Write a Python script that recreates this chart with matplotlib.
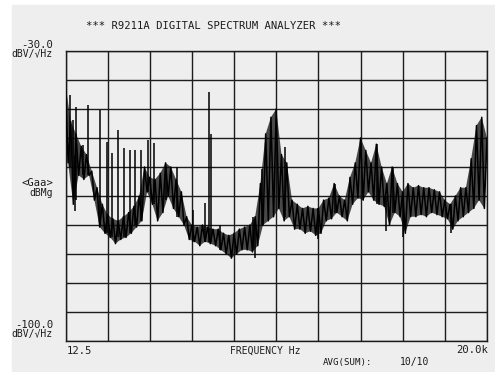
import numpy as np
import matplotlib
matplotlib.use("Agg")
import matplotlib.pyplot as plt
from matplotlib.patches import Rectangle

# Spectrum trace, kHz vs dBV/rtHz.
# upper edge of the noisy trace, every 0.25 kHz
peak_khz = np.arange(0.0, 20.01, 0.25)
peak_db = [
    -38, -47, -50, -53, -55, -59, -63, -67, -69.5, -70.5,
    -71, -70, -69, -67.5, -65, -58, -60.5, -61, -59.5, -57,
    -58, -61, -64, -70, -72, -72.5, -72, -72.5, -73, -73,
    -74, -74.5, -74, -73, -72.5, -72, -70, -62, -50, -46,
    -44, -55, -57, -66, -67, -68, -67.5, -68, -68, -66,
    -65.5, -62, -65, -66, -60.5, -57, -51, -54, -57, -52.5,
    -58, -62, -58, -62, -64, -62, -63, -62.5, -63, -63,
    -63.5, -64, -66, -67, -65, -63, -63, -56, -48, -46,
    -51,
]
# lower edge, between the upper samples
dip_khz = np.arange(0.125, 20.0, 0.25)
dip_db = [
    -57, -67, -60, -61, -60, -66, -72.5, -74, -75, -76.5,
    -75.5, -75, -74, -72.5, -71, -64, -67, -71, -69, -65,
    -68, -70, -72, -75.5, -76, -77, -76, -76.5, -77, -78,
    -79, -80, -79, -78, -78, -78.5, -77, -72, -71, -70,
    -68, -71, -70, -73, -73, -74, -73.5, -74.5, -74, -71,
    -70.5, -69, -70, -71, -67, -65.5, -66, -64, -66, -67,
    -67.5, -72, -69, -70, -74, -70, -70, -69.5, -70, -69,
    -69.5, -70, -70.5, -73, -71, -70, -69, -68, -66, -68,
]

# narrow lines (harmonics and single-bin dips) off the trace
spike_khz = [0.20, 0.36, 0.52, 0.84, 1.07, 1.66, 1.96, 2.21, 2.50, 2.78,
             3.05, 3.32, 3.60, 3.92, 4.19, 4.79, 5.27, 6.06, 6.64, 6.82,
             6.90, 7.32, 8.90, 9.33, 10.44, 12.80, 14.77, 15.55,
             0.45, 9.00, 12.00, 15.20, 16.00, 18.30]
spike_top = [-40.6, -46.7, -43.4, -52.7, -43.0, -44.2, -52.0, -54.7, -49.0, -53.5,
             -54.0, -54.0, -54.0, -51.5, -52.3, -58.0, -58.0, -68.4, -66.8, -39.8,
             -50.0, -72.0, -70.0, -58.5, -53.2, -62.0, -52.4, -58.0,
             -55.0, -72.0, -68.0, -65.0, -66.0, -67.0]
spike_base = [-58, -62, -66, -60, -60, -72, -74, -75, -75, -75,
              -74, -72, -71, -64, -67, -66, -70, -76, -76, -76,
              -76, -78, -78, -72, -70, -69, -67, -69,
              -68.5, -80, -75.5, -73.5, -75, -74]

f_start, f_stop = 0.0125, 20.0
db_top, db_bottom = -30.0, -100.0

PAPER = '#eeeeee'
INK = '#1c1c1c'
W, H = 495, 372


def put(x, y, s, ha='left', size=7.6):
    """Place text at printout pixel position."""
    fig.text(x / W, 1 - y / H, s, ha=ha, va='center', fontsize=size,
             family='DejaVu Sans Mono', color=INK)


fig = plt.figure(figsize=(W / 100, H / 100), dpi=100)
fig.patch.set_facecolor('white')
fig.patches.append(Rectangle((12 / W, 0.0), 1.0, 1 - 5 / H,
                             transform=fig.transFigure, color=PAPER, zorder=-10))

ax = fig.add_axes([65.7 / W, 31 / H, 421.3 / W, 290 / H])
ax.set_facecolor(PAPER)
ax.set_xlim(f_start, f_stop)
ax.set_ylim(db_bottom, db_top)

# graticule: 10 x 10 divisions
ax.set_xticks(np.linspace(f_start, f_stop, 11))
ax.set_yticks(np.linspace(db_bottom, db_top, 11))
ax.grid(True, color=INK, linewidth=1.0, zorder=1)
ax.tick_params(length=0, labelleft=False, labelbottom=False)
for sp in ax.spines.values():
    sp.set_color(INK)
    sp.set_linewidth(1.0)
ax.set_axisbelow(True)

# dense trace: dark band between the two edges plus the zig-zag itself
band_x = np.r_[peak_khz, dip_khz[::-1]]
band_y = np.r_[peak_db, dip_db[::-1]]
ax.fill(band_x, band_y, color='#111111', alpha=0.75, linewidth=0, zorder=2)

trace_khz = np.empty(len(peak_khz) + len(dip_khz))
trace_db = np.empty_like(trace_khz)
trace_khz[0::2], trace_db[0::2] = peak_khz, peak_db
trace_khz[1::2], trace_db[1::2] = dip_khz, dip_db
ax.plot(trace_khz, trace_db, color='black', linewidth=1.1, zorder=3)

ax.vlines(spike_khz, spike_base, spike_top, color='black', linewidth=1.1, zorder=3)

# printout labels
put(213, 26, '*** R9211A DIGITAL SPECTRUM ANALYZER ***', ha='center')
put(53, 45, '-30.0', ha='right')
put(53, 54, 'dBV/√Hz', ha='right', size=7.0)
put(53, 183, '<Gaa>', ha='right')
put(53, 193, 'dBMg', ha='right', size=7.0)
put(53, 325, '-100.0', ha='right')
put(53, 334, 'dBV/√Hz', ha='right', size=7.0)
put(67, 351, '12.5')
put(230, 351, 'FREQUENCY Hz', size=7.0)
put(488, 350, '20.0k', ha='right')
put(323, 363, 'AVG(SUM):', size=6.6)
put(400, 362, '10/10', size=7.0)

fig.savefig('out.png', dpi=100, facecolor=fig.get_facecolor())
